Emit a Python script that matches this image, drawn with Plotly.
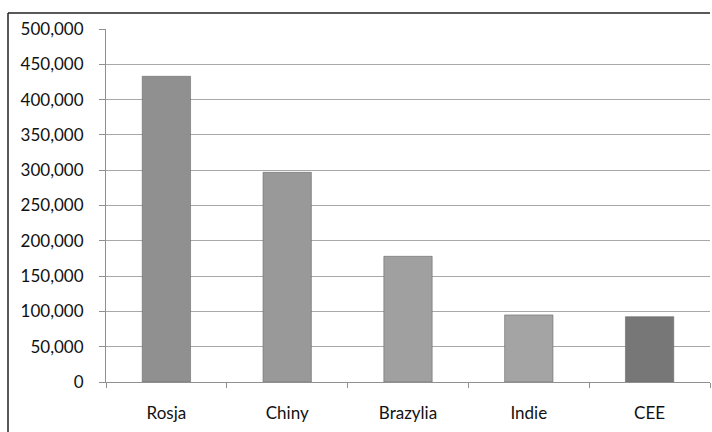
import plotly.graph_objects as go

# Categories and values
countries = ["Rosja", "Chiny", "Brazylia", "Indie", "CEE"]
values = [433000, 297000, 178000, 95000, 92500]
bar_colors = ["#909090", "#999999", "#a0a0a0", "#a4a4a4", "#777777"]

y_ticks = [0, 50000, 100000, 150000, 200000, 250000, 300000, 350000, 400000, 450000, 500000]
y_tick_labels = ["0", "50,000", "100,000", "150,000", "200,000", "250,000",
                 "300,000", "350,000", "400,000", "450,000", "500,000"]

W, H = 712, 432
L, R, T, B = 106, 2, 29, 50
plot_w = W - L - R
plot_h = H - T - B

fig = go.Figure(
    go.Bar(
        x=countries,
        y=values,
        marker=dict(color=bar_colors, line=dict(color="#6a6a6a", width=0.6)),
        width=0.4,
        hoverinfo="x+y",
    )
)

axis_font = dict(family="Lato, 'Open Sans', sans-serif", size=17, color="#111111")

frame_x = (8 - L) / plot_w
frame_y = (H - B - 13) / plot_h
frame_bottom = -B / plot_h

fig.update_layout(
    width=W,
    height=H,
    margin=dict(l=L, r=R, t=T, b=B),
    paper_bgcolor="white",
    plot_bgcolor="white",
    showlegend=False,
    xaxis=dict(
        tickfont=axis_font,
        showgrid=False,
        showline=True,
        linecolor="#909090",
        linewidth=1,
        ticks="outside",
        tickson="boundaries",
        ticklen=5,
        tickcolor="#909090",
        ticklabelstandoff=16,
    ),
    yaxis=dict(
        range=[0, 500000],
        tickvals=y_ticks,
        ticktext=y_tick_labels,
        tickfont=axis_font,
        showgrid=True,
        gridcolor="#a8a8a8",
        gridwidth=1,
        showline=True,
        linecolor="#909090",
        linewidth=1,
        ticks="outside",
        ticklen=6,
        tickcolor="#909090",
        ticklabelstandoff=12,
        zeroline=False,
    ),
    shapes=[
        # outer chart frame: left and top edges
        dict(type="line", xref="paper", yref="paper",
             x0=frame_x, x1=frame_x, y0=frame_bottom, y1=frame_y,
             line=dict(color="#222222", width=1.5)),
        dict(type="line", xref="paper", yref="paper",
             x0=frame_x, x1=1.0, y0=frame_y, y1=frame_y,
             line=dict(color="#222222", width=1.5)),
    ],
)

fig.write_html("out.html")
